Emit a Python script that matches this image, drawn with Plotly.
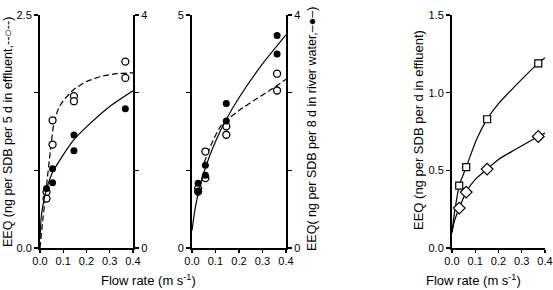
import plotly.graph_objects as go

# ---------------- data ----------------
# Panel A (left): effluent (open, left axis 0-2.5) and river water (filled, right axis 0-4)
a_open_x = [0.028, 0.028, 0.054, 0.054, 0.146, 0.146, 0.367, 0.367]
a_open_y = [0.60, 0.53, 1.37, 1.11, 1.63, 1.575, 2.00, 1.825]
a_fill_x = [0.028, 0.054, 0.054, 0.146, 0.146, 0.367]
a_fill_y = [1.02, 1.36, 1.12, 1.94, 1.67, 2.39]
a_dash_x = [0.0, 0.008, 0.026, 0.045, 0.06, 0.08, 0.1, 0.125, 0.145, 0.2, 0.27, 0.33, 0.4]
a_dash_y = [0.0, 0.2, 0.62, 1.05, 1.34, 1.5, 1.58, 1.65, 1.7, 1.785, 1.845, 1.87, 1.88]
a_solid_x = [0.0, 0.005, 0.012, 0.026, 0.054, 0.1, 0.146, 0.2, 0.3, 0.4]
a_solid_y = [0.15, 0.52, 0.72, 0.98, 1.3, 1.6, 1.86, 2.08, 2.43, 2.7]

# Panel B (middle): effluent (open, left axis 0-5) and river water (filled, right axis 0-4)
b_open_x = [0.026, 0.026, 0.057, 0.057, 0.146, 0.146, 0.362, 0.362]
b_open_y = [1.28, 1.21, 2.07, 1.50, 2.61, 2.43, 3.74, 3.38]
b_fill_x = [0.026, 0.026, 0.057, 0.057, 0.146, 0.146, 0.362, 0.362]
b_fill_y = [1.11, 0.97, 1.42, 1.25, 2.48, 2.18, 3.65, 3.33]
b_dash_x = [0.052, 0.08, 0.126, 0.2, 0.268, 0.33, 0.4]
b_dash_y = [1.83, 2.2, 2.64, 2.95, 3.18, 3.38, 3.62]
b_solid_x = [0.0, 0.005, 0.012, 0.026, 0.057, 0.1, 0.146, 0.2, 0.3, 0.4]
b_solid_y = [0.3, 0.45, 0.64, 0.93, 1.38, 1.83, 2.21, 2.58, 3.16, 3.66]

# Panel C (right): per-day effluent EEQ
c_x = [0.031, 0.061, 0.151, 0.371]
c_square = [0.401, 0.521, 0.829, 1.189]
c_diamond = [0.257, 0.360, 0.508, 0.718]
c_sq_fit_x = [0.0, 0.01, 0.031, 0.061, 0.106, 0.151, 0.2, 0.27, 0.371, 0.4]
c_sq_fit_y = [0.1, 0.22, 0.40, 0.52, 0.70, 0.83, 0.93, 1.04, 1.19, 1.225]
c_di_fit_x = [0.0, 0.01, 0.031, 0.061, 0.099, 0.151, 0.2, 0.27, 0.371, 0.4]
c_di_fit_y = [0.1, 0.17, 0.257, 0.36, 0.44, 0.508, 0.57, 0.632, 0.718, 0.74]

x_ticks = [0.0, 0.1, 0.2, 0.3, 0.4]
x_ticktext = ["0.0", "0.1", "0.2", "0.3", "0.4"]

FONT = "Liberation Sans, Arial, sans-serif"
W, H = 553, 290

def px(x):
    return x / W

def py(y):
    return (H - y) / H

ydom = [py(248), py(15)]

fig = go.Figure()

open_m = dict(symbol="circle", size=7, color="white", line=dict(width=1.3, color="black"))
fill_m = dict(symbol="circle", size=7, color="black")
dash_l = dict(color="black", width=1.2, dash="6px,3px", shape="spline", smoothing=0.7)
solid_l = dict(color="black", width=1.2, shape="spline", smoothing=0.7)

# Panel A
fig.add_trace(go.Scatter(x=a_dash_x, y=a_dash_y, mode="lines", line=dash_l, xaxis="x", yaxis="y"))
fig.add_trace(go.Scatter(x=a_solid_x, y=a_solid_y, mode="lines", line=solid_l, xaxis="x", yaxis="y2"))
fig.add_trace(go.Scatter(x=a_fill_x, y=a_fill_y, mode="markers", marker=fill_m, xaxis="x", yaxis="y2"))
fig.add_trace(go.Scatter(x=a_open_x, y=a_open_y, mode="markers", marker=open_m, xaxis="x", yaxis="y"))

# Panel B
fig.add_trace(go.Scatter(x=b_dash_x, y=b_dash_y, mode="lines", line=dash_l, xaxis="x2", yaxis="y3"))
fig.add_trace(go.Scatter(x=b_solid_x, y=b_solid_y, mode="lines", line=solid_l, xaxis="x2", yaxis="y4"))
fig.add_trace(go.Scatter(x=b_fill_x, y=b_fill_y, mode="markers", marker=fill_m, xaxis="x2", yaxis="y4"))
fig.add_trace(go.Scatter(x=b_open_x, y=b_open_y, mode="markers", marker=open_m, xaxis="x2", yaxis="y3"))

# Panel C
fig.add_trace(go.Scatter(x=c_sq_fit_x, y=c_sq_fit_y, mode="lines", line=solid_l, xaxis="x3", yaxis="y5"))
fig.add_trace(go.Scatter(x=c_di_fit_x, y=c_di_fit_y, mode="lines", line=solid_l, xaxis="x3", yaxis="y5"))
fig.add_trace(go.Scatter(x=c_x, y=c_square, mode="markers",
                         marker=dict(symbol="square", size=7, color="white", line=dict(width=1.2, color="black")),
                         xaxis="x3", yaxis="y5"))
fig.add_trace(go.Scatter(x=c_x, y=c_diamond, mode="markers",
                         marker=dict(symbol="diamond", size=9, color="white", line=dict(width=1.2, color="black")),
                         xaxis="x3", yaxis="y5"))

tickfont = dict(family=FONT, size=11, color="black")

def xax(dom):
    return dict(domain=dom, range=[0, 0.4], tickvals=x_ticks, ticktext=x_ticktext,
                showline=True, linecolor="black", linewidth=1.5, ticks="outside",
                ticklen=3, tickwidth=1.2, tickcolor="black", showgrid=False, zeroline=False,
                tickfont=tickfont, fixedrange=True, automargin=False, ticklabelstandoff=-1)

def yax(top, text, side="left", anchor="x", overlaying=None, minor_step=None):
    d = dict(domain=ydom, range=[0, top], tickvals=[0, top], ticktext=text, side=side, anchor=anchor,
             showline=True, linecolor="black", linewidth=2, ticks="outside", ticklen=4,
             tickwidth=1.2, tickcolor="black", showgrid=False, zeroline=False,
             tickfont=tickfont, fixedrange=True, automargin=False)
    if minor_step:
        d["minor"] = dict(tick0=0, dtick=minor_step, ticks="outside", ticklen=4,
                          tickwidth=1.2, tickcolor="black", showgrid=False)
    if overlaying:
        d["overlaying"] = overlaying
        d.pop("domain")
    return d

y5 = yax(1.5, None, anchor="x3")
y5["tickvals"] = [0, 0.5, 1.0, 1.5]
y5["ticktext"] = ["0.0", "0.5", "1.0", "1.5"]

fig.update_layout(
    width=W, height=H, autosize=False, margin=dict(l=0, r=0, t=0, b=0, pad=0, autoexpand=False),
    paper_bgcolor="white", plot_bgcolor="rgba(0,0,0,0)", showlegend=False,
    font=dict(family=FONT, color="black"),
    xaxis=xax([px(40), px(133)]),
    xaxis2=xax([px(192), px(286)]),
    xaxis3=xax([px(452), px(545)]),
    yaxis=yax(2.5, ["0.0", "2.5"], anchor="x", minor_step=2.5 / 3),
    yaxis2=yax(4, ["0", "4"], side="right", anchor="x", overlaying="y", minor_step=4 / 3),
    yaxis3=yax(5, ["0", "5"], anchor="x2", minor_step=5 / 3),
    yaxis4=yax(4, ["0", "4"], side="right", anchor="x2", overlaying="y3", minor_step=4 / 3),
    yaxis5=y5,
)

def ann(size=13):
    return dict(xref="paper", yref="paper", showarrow=False,
                font=dict(family=FONT, size=size, color="black"),
                xanchor="center", yanchor="middle")

fig.add_annotation(x=px(8), y=py(132), text="EEQ (ng per SDB per 5 d in effluent,--○--)",
                   textangle=-90, **ann(12.5))
fig.add_annotation(x=px(312), y=py(129), text="EEQ( ng per SDB per 8 d in river water,–●–)",
                   textangle=-90, **ann(12.5))
fig.add_annotation(x=px(418), y=py(130), text="EEQ (ng per SDB per d in effluent)",
                   textangle=-90, **ann(13))
fig.add_annotation(x=px(148), y=py(280), text="Flow rate (m s<sup>-1</sup>)", **ann(13))
fig.add_annotation(x=px(473), y=py(280), text="Flow rate (m s<sup>-1</sup>)", **ann(13))

fig.write_html("out.html", config={"displayModeBar": False, "staticPlot": True},
               post_script="document.body.style.margin='0px';document.body.style.overflow='hidden';")
